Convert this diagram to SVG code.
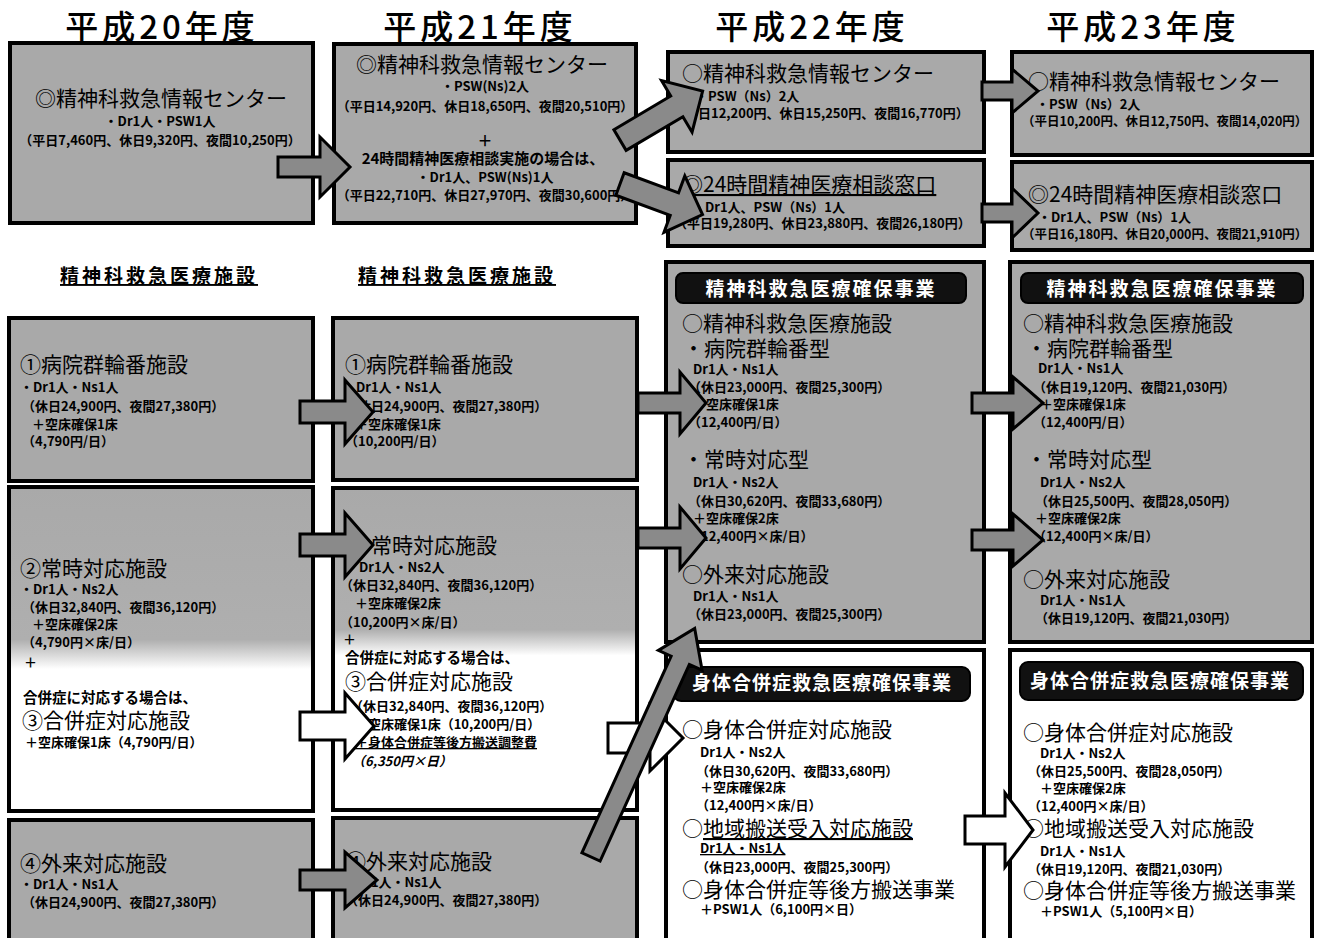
<svg xmlns="http://www.w3.org/2000/svg" width="1317" height="938" viewBox="0 0 1317 938">
<style>
text{font-family:"Noto Sans CJK JP","Noto Sans CJK SC",sans-serif;fill:#000}
.title{font-size:33px;font-weight:500;letter-spacing:4px}
.lg{font-size:21px}
.md{font-size:15px;font-weight:bold}
.sm{font-size:13px;font-weight:bold}
.hd{font-size:19px;font-weight:bold;fill:#fff;letter-spacing:2px}
.sec{font-size:19px;font-weight:bold;letter-spacing:3px;text-decoration:underline}
.u{text-decoration:underline}
.mid{text-anchor:middle}
.g{fill:#a9a9a9;stroke:#000;stroke-width:4}
.w{fill:#fff;stroke:#000;stroke-width:4}
.hb{fill:#111;stroke:#000;stroke-width:2}
.ag{fill:#8a8a8a;stroke:#000;stroke-width:3}
.aw{fill:#fff;stroke:#000;stroke-width:3}
</style>
<defs>
<linearGradient id="fade1" gradientUnits="userSpaceOnUse" x1="0" y1="487" x2="0" y2="812">
<stop offset="0" stop-color="#a9a9a9"/><stop offset="0.47" stop-color="#afafaf"/><stop offset="0.56" stop-color="#fff"/><stop offset="1" stop-color="#fff"/>
</linearGradient>
<linearGradient id="fade2" gradientUnits="userSpaceOnUse" x1="0" y1="488" x2="0" y2="810">
<stop offset="0" stop-color="#a9a9a9"/><stop offset="0.44" stop-color="#afafaf"/><stop offset="0.52" stop-color="#fff"/><stop offset="1" stop-color="#fff"/>
</linearGradient>
</defs>
<rect width="1317" height="938" fill="#fff"/>

<g id="titles">
<text class="title mid" x="162" y="39">平成20年度</text>
<text class="title mid" x="480" y="39">平成21年度</text>
<text class="title mid" x="812" y="39">平成22年度</text>
<text class="title mid" x="1143" y="39">平成23年度</text>
<text class="sec" x="60" y="283">精神科救急医療施設</text>
<text class="sec" x="358" y="283">精神科救急医療施設</text>
</g>

<g id="h20-center">
<rect class="g" x="10" y="43" width="303" height="180"/>
<text class="lg mid" x="161" y="106">◎精神科救急情報センター</text>
<text class="sm mid" x="160" y="126">・Dr1人・PSW1人</text>
<text class="sm mid" x="160" y="145">（平日7,460円、休日9,320円、夜間10,250円）</text>
</g>

<g id="h21-center">
<rect class="g" x="334" y="44" width="302" height="179"/>
<text class="lg mid" x="482" y="72">◎精神科救急情報センター</text>
<text class="sm mid" x="485" y="91">・PSW(Ns)2人</text>
<text class="sm mid" x="485" y="111">（平日14,920円、休日18,650円、夜間20,510円）</text>
<text class="md mid" x="485" y="146">＋</text>
<text class="md mid" x="483" y="164">24時間精神医療相談実施の場合は、</text>
<text class="sm mid" x="485" y="182">・Dr1人、PSW(Ns)1人</text>
<text class="sm mid" x="485" y="200">（平日22,710円、休日27,970円、夜間30,600円）</text>
</g>

<g id="h22-center">
<rect class="g" x="668" y="52" width="316" height="100"/>
<text class="lg" x="682" y="81">○精神科救急情報センター</text>
<text class="sm" x="695" y="101">・PSW（Ns）2人</text>
<text class="sm" x="672" y="118">（平日12,200円、休日15,250円、夜間16,770円）</text>
</g>

<g id="h22-consult">
<rect class="g" x="668" y="160" width="316" height="86"/>
<text class="lg u" x="682" y="192">◎24時間精神医療相談窓口</text>
<text class="sm" x="692" y="212">・Dr1人、PSW（Ns）1人</text>
<text class="sm" x="674" y="228">（平日19,280円、休日23,880円、夜間26,180円）</text>
</g>

<g id="h23-center">
<rect class="g" x="1012" y="52" width="300" height="103"/>
<text class="lg" x="1028" y="89">○精神科救急情報センター</text>
<text class="sm" x="1036" y="109">・PSW（Ns）2人</text>
<text class="sm" x="1022" y="126" style="font-size:12.5px">（平日10,200円、休日12,750円、夜間14,020円）</text>
</g>

<g id="h23-consult">
<rect class="g" x="1012" y="162" width="300" height="88"/>
<text class="lg" x="1028" y="202">◎24時間精神医療相談窓口</text>
<text class="sm" x="1038" y="222">・Dr1人、PSW（Ns）1人</text>
<text class="sm" x="1022" y="239" style="font-size:12.5px">（平日16,180円、休日20,000円、夜間21,910円）</text>
</g>

<g id="h20-rinban">
<rect class="g" x="9" y="318" width="304" height="163"/>
<text class="lg" x="20" y="372">①病院群輪番施設</text>
<text class="sm" x="20" y="392">・Dr1人・Ns1人</text>
<text class="sm" x="22" y="411">（休日24,900円、夜間27,380円）</text>
<text class="sm" x="32" y="429">＋空床確保1床</text>
<text class="sm" x="22" y="446">（4,790円/日）</text>
</g>

<g id="h20-joji">
<rect x="9" y="487" width="304" height="324" fill="url(#fade1)" stroke="#000" stroke-width="4"/>
<text class="lg" x="20" y="576">②常時対応施設</text>
<text class="sm" x="20" y="594">・Dr1人・Ns2人</text>
<text class="sm" x="22" y="612">（休日32,840円、夜間36,120円）</text>
<text class="sm" x="32" y="629">＋空床確保2床</text>
<text class="sm" x="22" y="647">（4,790円×床/日）</text>
<text class="sm" x="24" y="667">＋</text>
<text x="23" y="703" style="font-size:14.5px;font-weight:bold">合併症に対応する場合は、</text>
<text class="lg" x="22" y="728">③合併症対応施設</text>
<text class="sm" x="25" y="747">＋空床確保1床（4,790円/日）</text>
</g>

<g id="h20-gairai">
<rect class="g" x="9" y="820" width="304" height="120"/>
<text class="lg" x="20" y="871">④外来対応施設</text>
<text class="sm" x="20" y="889">・Dr1人・Ns1人</text>
<text class="sm" x="22" y="907">（休日24,900円、夜間27,380円）</text>
</g>

<g id="h21-rinban">
<rect class="g" x="333" y="318" width="304" height="162"/>
<text class="lg" x="345" y="372">①病院群輪番施設</text>
<text class="sm" x="343" y="392">・Dr1人・Ns1人</text>
<text class="sm" x="345" y="411">（休日24,900円、夜間27,380円）</text>
<text class="sm" x="355" y="429">＋空床確保1床</text>
<text class="sm" x="345" y="446">（10,200円/日）</text>
</g>

<g id="h21-joji">
<rect x="333" y="488" width="304" height="322" fill="url(#fade2)" stroke="#000" stroke-width="4"/>
<text class="lg" x="350" y="553">②常時対応施設</text>
<text class="sm" x="346" y="572">・Dr1人・Ns2人</text>
<text class="sm" x="340" y="590">（休日32,840円、夜間36,120円）</text>
<text class="sm" x="355" y="608">＋空床確保2床</text>
<text class="sm" x="340" y="627">（10,200円×床/日）</text>
<text class="sm" x="343" y="644">＋</text>
<text x="345" y="663" style="font-size:14.5px;font-weight:bold">合併症に対応する場合は、</text>
<text class="lg" x="345" y="689">③合併症対応施設</text>
<text class="sm" x="350" y="711">（休日32,840円、夜間36,120円）</text>
<text class="sm" x="355" y="729">＋空床確保1床（10,200円/日）</text>
<text class="sm u" x="355" y="747">＋身体合併症等後方搬送調整費</text>
<text class="sm" x="352" y="766" font-style="italic">（6,350円×日）</text>
</g>

<g id="h21-gairai">
<rect class="g" x="333" y="818" width="304" height="122"/>
<text class="lg" x="345" y="869">④外来対応施設</text>
<text class="sm" x="343" y="887">・Dr1人・Ns1人</text>
<text class="sm" x="345" y="905">（休日24,900円、夜間27,380円）</text>
</g>

<g id="h22-seishin">
<rect class="g" x="666" y="262" width="318" height="380"/>
<rect class="hb" x="676" y="273" width="290" height="30" rx="7"/>
<text class="hd mid" x="821" y="296">精神科救急医療確保事業</text>
<text class="lg" x="682" y="331">○精神科救急医療施設</text>
<text class="lg" x="683" y="356">・病院群輪番型</text>
<text class="sm" x="693" y="374">Dr1人・Ns1人</text>
<text class="sm" x="688" y="392">（休日23,000円、夜間25,300円）</text>
<text class="sm" x="693" y="409">＋空床確保1床</text>
<text class="sm" x="688" y="427">（12,400円/日）</text>
<text class="lg" x="683" y="467">・常時対応型</text>
<text class="sm" x="693" y="487">Dr1人・Ns2人</text>
<text class="sm" x="688" y="506">（休日30,620円、夜間33,680円）</text>
<text class="sm" x="693" y="523">＋空床確保2床</text>
<text class="sm" x="688" y="541">（12,400円×床/日）</text>
<text class="lg" x="682" y="582">○外来対応施設</text>
<text class="sm" x="693" y="601">Dr1人・Ns1人</text>
<text class="sm" x="688" y="619">（休日23,000円、夜間25,300円）</text>
</g>

<g id="h23-seishin">
<rect class="g" x="1010" y="262" width="302" height="380"/>
<rect class="hb" x="1021" y="273" width="282" height="30" rx="7"/>
<text class="hd mid" x="1162" y="296">精神科救急医療確保事業</text>
<text class="lg" x="1023" y="331">○精神科救急医療施設</text>
<text class="lg" x="1026" y="356">・病院群輪番型</text>
<text class="sm" x="1038" y="373">Dr1人・Ns1人</text>
<text class="sm" x="1033" y="392">（休日19,120円、夜間21,030円）</text>
<text class="sm" x="1040" y="409">＋空床確保1床</text>
<text class="sm" x="1033" y="427">（12,400円/日）</text>
<text class="lg" x="1026" y="467">・常時対応型</text>
<text class="sm" x="1040" y="487">Dr1人・Ns2人</text>
<text class="sm" x="1035" y="506">（休日25,500円、夜間28,050円）</text>
<text class="sm" x="1035" y="523">＋空床確保2床</text>
<text class="sm" x="1033" y="541">（12,400円×床/日）</text>
<text class="lg" x="1023" y="587">○外来対応施設</text>
<text class="sm" x="1040" y="605">Dr1人・Ns1人</text>
<text class="sm" x="1035" y="623">（休日19,120円、夜間21,030円）</text>
</g>

<g id="h22-shintai">
<rect class="w" x="666" y="650" width="318" height="290"/>
<rect class="hb" x="673" y="667" width="297" height="34" rx="8"/>
<text class="hd mid" x="822" y="690" style="letter-spacing:1px">身体合併症救急医療確保事業</text>
<text class="lg" x="682" y="737">○身体合併症対応施設</text>
<text class="sm" x="700" y="757">Dr1人・Ns2人</text>
<text class="sm" x="696" y="776">（休日30,620円、夜間33,680円）</text>
<text class="sm" x="700" y="792">＋空床確保2床</text>
<text class="sm" x="696" y="810">（12,400円×床/日）</text>
<text class="lg" x="682" y="836">○<tspan class="u">地域搬送受入対応施設</tspan></text>
<text class="sm u" x="700" y="853">Dr1人・Ns1人</text>
<text class="sm" x="696" y="872">（休日23,000円、夜間25,300円）</text>
<text class="lg" x="682" y="897">○身体合併症等後方搬送事業</text>
<text class="sm" x="700" y="914">＋PSW1人（6,100円×日）</text>
</g>

<g id="h23-shintai">
<rect class="w" x="1010" y="650" width="302" height="290"/>
<rect class="hb" x="1020" y="662" width="283" height="38" rx="8"/>
<text class="hd mid" x="1160" y="688" style="letter-spacing:1px">身体合併症救急医療確保事業</text>
<text class="lg" x="1023" y="740">○身体合併症対応施設</text>
<text class="sm" x="1040" y="758">Dr1人・Ns2人</text>
<text class="sm" x="1028" y="776">（休日25,500円、夜間28,050円）</text>
<text class="sm" x="1040" y="793">＋空床確保2床</text>
<text class="sm" x="1028" y="811">（12,400円×床/日）</text>
<text class="lg" x="1023" y="836">○地域搬送受入対応施設</text>
<text class="sm" x="1040" y="856">Dr1人・Ns1人</text>
<text class="sm" x="1028" y="874">（休日19,120円、夜間21,030円）</text>
<text class="lg" x="1023" y="898">○身体合併症等後方搬送事業</text>
<text class="sm" x="1040" y="916">＋PSW1人（5,100円×日）</text>
</g>

<g id="connectors">
<path class="ag" d="M278,157 L320,157 L320,137 L350,167 L320,197 L320,177 L278,177 Z"/>
<path class="ag" transform="translate(620,140) rotate(-30.6)" d="M0,-12 L66,-12 L66,-30 L96,0 L66,30 L66,12 L0,12 Z"/>
<path class="ag" transform="translate(620,184) rotate(20.3)" d="M0,-12 L58,-12 L58,-30 L88,0 L58,30 L58,12 L0,12 Z"/>
<path class="ag" d="M982,82 L1012,82 L1012,69 L1038,91 L1012,113 L1012,100 L982,100 Z"/>
<path class="ag" d="M982,204 L1012,204 L1012,188 L1038,213 L1012,238 L1012,222 L982,222 Z"/>
<path class="ag" d="M300,401 L345,401 L345,380 L373,412 L345,444 L345,423 L300,423 Z"/>
<path class="ag" d="M300,534 L345,534 L345,513 L373,545 L345,577 L345,556 L300,556 Z"/>
<path class="aw" d="M300,712 L345,712 L345,693 L374,726 L345,759 L345,740 L300,740 Z"/>
<path class="ag" d="M300,870 L345,870 L345,852 L377,880 L345,908 L345,890 L300,890 Z"/>
<path class="ag" d="M638,393 L680,393 L680,372 L706,403 L680,434 L680,413 L638,413 Z"/>
<path class="ag" d="M638,528 L680,528 L680,507 L706,538 L680,569 L680,548 L638,548 Z"/>
<path class="aw" d="M608,723 L650,723 L650,705 L683,738 L650,771 L650,753 L608,753 Z"/>
<path class="ag" transform="translate(591,857) rotate(-65.6)" d="M0,-10 L216,-10 L216,-24 L251,0 L216,24 L216,10 L0,10 Z"/>
<path class="ag" d="M972,393 L1013,393 L1013,377 L1043,403 L1013,429 L1013,413 L972,413 Z"/>
<path class="ag" d="M972,530 L1013,530 L1013,514 L1043,540 L1013,566 L1013,550 L972,550 Z"/>
<path class="aw" d="M965,816 L1005,816 L1005,793 L1033,830 L1005,867 L1005,844 L965,844 Z"/>
</g>
</svg>
